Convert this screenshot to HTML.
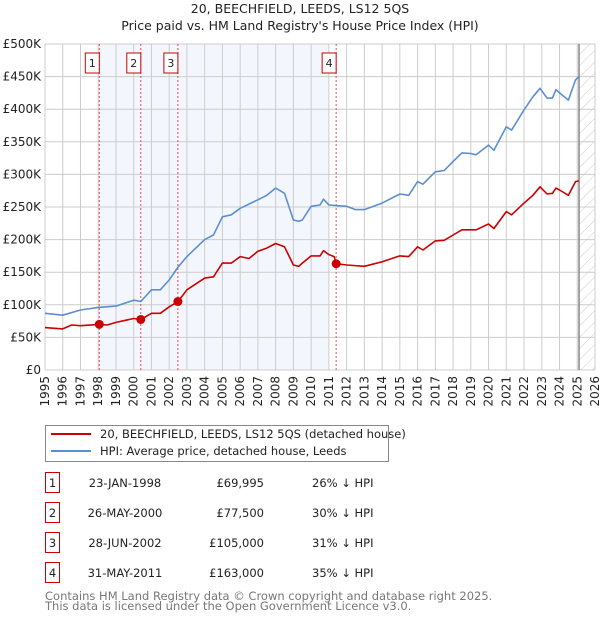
<!DOCTYPE html>
<html><head><meta charset="utf-8"><style>
body{margin:0;background:#fff;font-family:"DejaVu Sans","Liberation Sans",sans-serif}
svg text{font-family:"DejaVu Sans","Liberation Sans",sans-serif}
</style></head><body>
<svg id="c" width="600" height="620" xmlns="http://www.w3.org/2000/svg">
<defs><pattern id="hatch" width="8" height="8" patternUnits="userSpaceOnUse" patternTransform="rotate(45)"><line x1="0" y1="0" x2="0" y2="8" stroke="#ccc" stroke-width="1"/></pattern></defs>
<text x="300" y="13" text-anchor="middle" font-size="12.5" fill="#222">20, BEECHFIELD, LEEDS, LS12 5QS</text>
<text x="300" y="30" text-anchor="middle" font-size="12.5" fill="#222">Price paid vs. HM Land Registry's House Price Index (HPI)</text>
<g id="plot"></g>
<g>
<rect x="45.5" y="425.5" width="343" height="36" fill="#fff" stroke="#888"/>
<line x1="51" y1="434" x2="91" y2="434" stroke="#cc0000" stroke-width="2"/>
<text x="100" y="438" font-size="11.5" fill="#222">20, BEECHFIELD, LEEDS, LS12 5QS (detached house)</text>
<line x1="51" y1="451" x2="91" y2="451" stroke="#5b8fd0" stroke-width="2"/>
<text x="100" y="455" font-size="11.5" fill="#222">HPI: Average price, detached house, Leeds</text>
</g>
<g id="table"></g>
<text x="45" y="600" font-size="11.5" fill="#777">Contains HM Land Registry data © Crown copyright and database right 2025.</text>
<text x="45" y="610" font-size="11.5" fill="#777">This data is licensed under the Open Government Licence v3.0.</text>
</svg>
<script>
const yTicks=[0,50,100,150,200,250,300,350,400,450,500];
const yTickLabels=["£0","£50K","£100K","£150K","£200K","£250K","£300K","£350K","£400K","£450K","£500K"];
const xYears=[1995,1996,1997,1998,1999,2000,2001,2002,2003,2004,2005,2006,2007,2008,2009,2010,2011,2012,2013,2014,2015,2016,2017,2018,2019,2020,2021,2022,2023,2024,2025,2026];
const hpiT=[1995,1996,1997,1998,1999,2000,2000.4,2001,2001.5,2002,2002.5,2003,2004,2004.5,2005,2005.5,2006,2007,2007.5,2008,2008.5,2009,2009.3,2009.5,2010,2010.5,2010.7,2011,2012,2012.5,2013,2014,2015,2015.5,2016,2016.3,2017,2017.5,2018,2018.5,2019,2019.3,2020,2020.3,2021,2021.3,2022,2022.5,2022.9,2023.3,2023.6,2023.8,2024,2024.5,2024.9,2025.1];
const hpiV=[87,84,92,96,98,107,105,123,123,138,158,174,200,207,235,238,248,261,268,279,271,230,228,230,251,253,262,253,251,246,246,256,270,268,289,285,304,306,320,333,332,330,345,337,373,368,399,419,432,417,417,430,425,414,445,450];
const ppT=[1995,1996,1996.5,1997,1998.06,1998.5,1999,2000,2000.4,2001,2001.5,2002,2002.5,2003,2004,2004.5,2005,2005.5,2006,2006.5,2007,2007.5,2008,2008.5,2009,2009.3,2009.5,2010,2010.5,2010.7,2011,2011.3,2011.41,2012,2013,2014,2015,2015.5,2016,2016.3,2017,2017.5,2018,2018.5,2019,2019.3,2020,2020.3,2021,2021.3,2022,2022.5,2022.9,2023.3,2023.6,2023.8,2024,2024.5,2024.9,2025.1];
const ppV=[65,63,69,68,70,69,73,79,77.5,87,87,97,105,123,141,143,164,164,174,171,182,187,194,189,161,159,164,175,175,183,177,174,163,161,159,166,175,174,189,184,198,199,207,215,215,215,224,217,243,238,256,268,281,270,271,279,276,268,289,290];
const saleT=[1998.06,2000.4,2002.49,2011.41];
const saleV=[69.995,77.5,105,163];
const saleLabels=["1","2","3","4"];
const saleDates=["23-JAN-1998","26-MAY-2000","28-JUN-2002","31-MAY-2011"];
const salePrices=["£69,995","£77,500","£105,000","£163,000"];
const saleHpi=["26% ↓ HPI","30% ↓ HPI","31% ↓ HPI","35% ↓ HPI"];

const NS="http://www.w3.org/2000/svg";
const X0=45,X1=595,Y0=370,Y1=44;
const xs=t=>X0+(t-1995)/(2026-1995)*(X1-X0);
const ys=v=>Y0-v/500*(Y0-Y1);
const plot=document.getElementById('plot');
function mk(tag,attrs,parent){const e=document.createElementNS(NS,tag);for(const k in attrs)e.setAttribute(k,attrs[k]);(parent||plot).appendChild(e);return e;}
// shading
let sh=mk('rect',{x:xs(saleT[0]),y:Y1,width:xs(2011.0)-xs(saleT[0]),height:Y0-Y1,fill:'#eef3fc',opacity:0.7});


let ht=mk('rect',{x:xs(2025.1),y:Y1,width:X1-xs(2025.1),height:Y0-Y1,fill:'url(#hatch)'});


// grid
yTicks.forEach((v,i)=>{
 let l=mk('line',{x1:X0,x2:X1,y1:ys(v),y2:ys(v),stroke:'#ccc','stroke-width':1});
 
 
 let t=mk('text',{x:X0-4,y:ys(v)+4,'text-anchor':'end','font-size':12,fill:'#222'});
 t.textContent=yTickLabels[i];
 
 
});
xYears.forEach(y=>{
 let l=mk('line',{x1:xs(y),x2:xs(y),y1:Y1,y2:Y0,stroke:'#ccc','stroke-width':1});
 
 
 let t=mk('text',{x:0,y:0,'text-anchor':'end','font-size':12,fill:'#222',transform:`translate(${xs(y)+4},${Y0+6}) rotate(-90)`});
 t.textContent=y;
 
 
});
let nl=mk('line',{x1:xs(2025.1),x2:xs(2025.1),y1:Y1,y2:Y0,stroke:'#888','stroke-width':1.5});


// sale lines
saleT.forEach((t,i)=>{
 let l=mk('line',{x1:xs(t),x2:xs(t),y1:Y1,y2:Y0,stroke:'#e05050','stroke-width':1,'stroke-dasharray':'2,2'});
 
 
 let g=mk('g',{});
 
 
 mk('rect',{x:xs(t)-14,y:53,width:14,height:20,fill:'#fff',stroke:'#c00'},g);
 let tx=mk('text',{x:xs(t)-7,y:67,'text-anchor':'middle','font-size':11,fill:'#222'},g);
 tx.textContent=saleLabels[i];
});
function path(T,V,c,name){
 let d=T.map((t,i)=>(i?'L':'M')+xs(t).toFixed(1)+','+ys(V[i]).toFixed(1)).join('');
 let p=mk('path',{d:d,fill:'none',stroke:c,'stroke-width':1.6,'stroke-linejoin':'round'});
 
 
}
path(hpiT,hpiV,'#5b8fd0','hpi-line');
path(ppT,ppV,'#cc0000','price-paid-line');
saleT.forEach((t,i)=>{
 let c=mk('circle',{cx:xs(t),cy:ys(saleV[i]),r:4.5,fill:'#cc0000'});
 
 
});
// table
const tb=document.getElementById('table');
saleLabels.forEach((s,i)=>{
 const cy=483+i*30;
 let g=mk('g',{},tb);
 
 
 mk('rect',{x:45.5,y:cy-10.5,width:14,height:20,fill:'#fff',stroke:'#c00'},g);
 let a=mk('text',{x:52.5,y:cy+4,'text-anchor':'middle','font-size':11.5,fill:'#222'},g);a.textContent=s;
 let b=mk('text',{x:125,y:cy+4,'text-anchor':'middle','font-size':11.5,fill:'#222'},g);b.textContent=saleDates[i];
 let c=mk('text',{x:264,y:cy+4,'text-anchor':'end','font-size':11.5,fill:'#222'},g);c.textContent=salePrices[i];
 let d=mk('text',{x:312,y:cy+4,'font-size':11.5,fill:'#222'},g);d.textContent=saleHpi[i];
});
</script>
</body></html>
